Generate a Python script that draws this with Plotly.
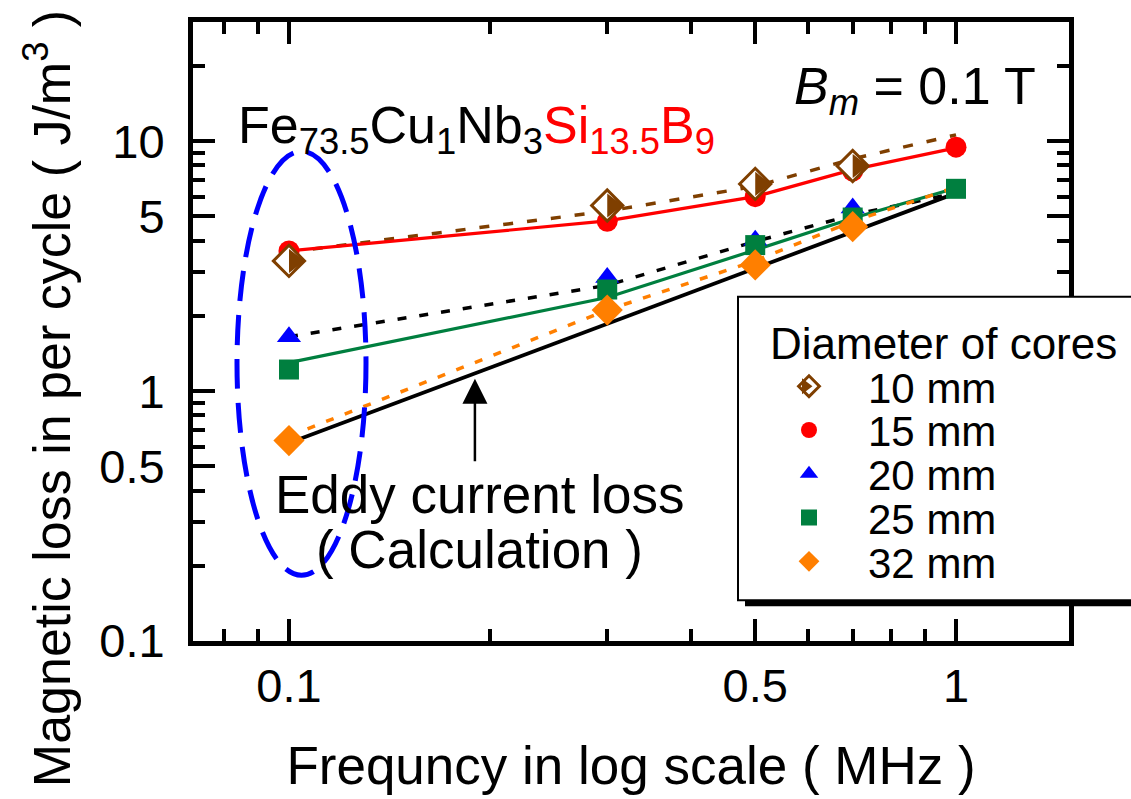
import math
import plotly.graph_objects as go

# ---------------- data ----------------
freq = [0.1, 0.3, 0.5, 0.7, 1.0]          # MHz
freq4 = [0.1, 0.3, 0.5, 0.7]

# measured points (J/m^3)
loss_10mm = [3.32, 5.53, 6.75, 7.96]
loss_15mm = [3.64, 4.78, 6.0, 7.6, 9.47]
loss_20mm = [1.65, 2.85, 4.02, 5.4]
loss_25mm = [1.22, 2.55, 3.84, 4.95, 6.45]
loss_32mm = [0.634, 2.11, 3.2, 4.55]

# fitted / calculated curves
fit_10mm = [3.6, 5.25, 6.6, 8.5, 10.6]
fit_15mm = [3.64, 4.8, 6.0, 7.7, 9.4]
fit_20mm = [1.65, 2.65, 3.97, 5.07, 6.2]
fit_25mm = [1.3, 2.37, 3.67, 4.92, 6.5]
fit_32mm = [0.66, 2.11, 3.32, 4.78, 6.55]
eddy_calc = [0.62, 1.86, 3.1, 4.34, 6.2]

x_tickvals = [0.1, 0.5, 1]
x_ticktext = ["0.1", "0.5", "1"]
x_minor = [0.08, 0.09, 0.2, 0.3, 0.4, 0.6, 0.7, 0.8, 0.9]
y_tickvals = [0.1, 0.5, 1, 5, 10]
y_ticktext = ["0.1", "0.5", "1", "5", "10"]
y_minor = [0.2, 0.3, 0.4, 0.6, 0.7, 0.8, 0.9, 2, 3, 4, 6, 7, 8, 9, 20]

legend_names = ["10 mm", "15 mm", "20 mm", "25 mm", "32 mm"]

# ---------------- style ----------------
FONT = "Liberation Sans, Arial, Helvetica, sans-serif"
BROWN = "#7f3f00"
RED = "#ff0000"
BLUE = "#0000ff"
GREEN = "#007f3f"
ORANGE = "#ff7f00"

W, H = 1131, 799
ML, MR, MT, MB = 193, 62, 22, 155
PW, PH = W - ML - MR, H - MT - MB


def px(xp):
    return (xp - ML) / PW


def py(yp):
    return (H - MB - yp) / PH


fig = go.Figure()


def add_line(y, color, dash, width):
    fig.add_trace(go.Scatter(x=freq, y=y, mode="lines",
                             line=dict(color=color, dash=dash, width=width),
                             showlegend=False, hoverinfo="skip"))


add_line(fit_10mm, BROWN, "10px,14px", 3.5)
add_line(fit_15mm, RED, "solid", 3.2)
add_line(fit_20mm, "black", "9px,13px", 3.5)
add_line(fit_25mm, GREEN, "solid", 3.2)
add_line(fit_32mm, ORANGE, "8px,12px", 3.5)
add_line(eddy_calc, "black", "solid", 3.8)

# markers
fig.add_trace(go.Scatter(x=freq, y=loss_15mm, mode="markers", name=legend_names[1],
                         legend="legend2", marker=dict(symbol="circle", size=21, color=RED)))
fig.add_trace(go.Scatter(x=freq4, y=loss_10mm, mode="markers", name=legend_names[0],
                         legend="legend",
                         marker=dict(symbol="diamond", size=24, color="white",
                                     line=dict(color=BROWN, width=3))))
fig.add_trace(go.Scatter(x=freq4, y=loss_10mm, mode="markers", showlegend=False,
                         marker=dict(symbol="triangle-down", angle=-90, standoff=5.2,
                                     size=20.8, color=BROWN)))
fig.add_trace(go.Scatter(x=freq4, y=loss_20mm, mode="markers", name=legend_names[2],
                         legend="legend3", marker=dict(symbol="triangle-up", size=21, color=BLUE)))
fig.add_trace(go.Scatter(x=freq, y=loss_25mm, mode="markers", name=legend_names[3],
                         legend="legend4", marker=dict(symbol="square", size=20, color=GREEN)))
fig.add_trace(go.Scatter(x=freq4, y=loss_32mm, mode="markers", name=legend_names[4],
                         legend="legend5", marker=dict(symbol="diamond", size=24, color=ORANGE)))
# legend-only half fill for the 10 mm key (no text of its own)
fig.add_trace(go.Scatter(x=[None], y=[None], mode="markers", name=" ",
                         legend="legend6",
                         marker=dict(symbol="triangle-down", angle=-90, standoff=3.5,
                                     size=13.9, color=BROWN)))


def leg(row_y):
    return dict(x=px(750), y=py(row_y - 35), xanchor="left", yanchor="top",
                bgcolor="rgba(0,0,0,0)", borderwidth=0, itemwidth=108,
                font=dict(family=FONT, size=42, color="black"),
                itemclick=False, itemdoubleclick=False)


rows = [389, 433, 477, 521, 565]

axis_common = dict(type="log", showgrid=False, zeroline=False, showline=True,
                   linecolor="black", linewidth=5, mirror="allticks",
                   ticks="inside", ticklen=22, tickwidth=4, tickcolor="black",
                   tickfont=dict(family=FONT, size=47, color="black"))

fig.update_layout(
    width=W, height=H,
    margin=dict(l=ML, r=MR, t=MT, b=MB, pad=0),
    paper_bgcolor="white", plot_bgcolor="white",
    font=dict(family=FONT, color="black"),
    xaxis=dict(axis_common,
               range=[math.log10(0.0718), math.log10(1.477)],
               tickmode="array", tickvals=x_tickvals, ticktext=x_ticktext,
               minor=dict(tickmode="array", tickvals=x_minor, ticks="inside",
                          ticklen=12, tickwidth=4, tickcolor="black", showgrid=False),
               ticklabelstandoff=0,
               title=dict(text="Frequncy in log scale ( MHz )",
                          font=dict(family=FONT, size=53), standoff=37)),
    yaxis=dict(axis_common,
               range=[-1, math.log10(30)],
               tickmode="array", tickvals=y_tickvals, ticktext=y_ticktext,
               minor=dict(tickmode="array", tickvals=y_minor, ticks="inside",
                          ticklen=12, tickwidth=4, tickcolor="black", showgrid=False),
               ticklabelstandoff=14),
    legend=leg(rows[0]), legend2=leg(rows[1]), legend3=leg(rows[2]),
    legend4=leg(rows[3]), legend5=leg(rows[4]),
    legend6=leg(rows[0]),
    showlegend=True,
)

# legend frame with drop shadow
fig.add_shape(type="rect", xref="paper", yref="paper", layer="above",
              x0=px(745), x1=px(1160), y0=py(609), y1=py(304),
              fillcolor="black", line=dict(width=0))
fig.add_shape(type="rect", xref="paper", yref="paper", layer="above",
              x0=px(738), x1=px(1150), y0=py(603), y1=py(298),
              fillcolor="white", line=dict(color="black", width=2))

# blue dashed ellipse around the 0.1 MHz points
fig.add_shape(type="circle", xref="paper", yref="paper", layer="above",
              x0=px(237), x1=px(366), y0=py(578), y1=py(152),
              line=dict(color=BLUE, width=5, dash="30px,14px"))

ann = [
    dict(text="Magnetic loss in per cycle ( J/m<sup>3</sup> )", x=px(48), y=py(401),
         xanchor="center", yanchor="middle", textangle=-90, size=52),
    dict(text="Diameter of cores", x=px(768), y=py(345), xanchor="left", yanchor="middle",
         size=44),
    dict(text="Fe<sub>73.5</sub>Cu<sub>1</sub>Nb<sub>3</sub>"
              "<span style='color:#ff0000'>Si<sub>13.5</sub>B<sub>9</sub></span>",
         x=px(236), y=py(130), xanchor="left", yanchor="middle", size=52),
    dict(text="<i>B</i><sub><i>m</i></sub> = 0.1 T", x=px(915), y=py(90),
         xanchor="center", yanchor="middle", size=52),
    dict(text="Eddy current loss", x=px(479), y=py(497), xanchor="center",
         yanchor="middle", size=53),
    dict(text="( Calculation )", x=px(479), y=py(552), xanchor="center",
         yanchor="middle", size=53),
]
for a in ann:
    size = a.pop("size")
    fig.add_annotation(xref="paper", yref="paper", showarrow=False,
                       font=dict(family=FONT, color="black", size=size), **a)

# arrow pointing at the calculated eddy current loss line
fig.add_annotation(xref="x", yref="y", x=math.log10(0.19), y=math.log10(1.12),
                   ax=0, ay=84, text="", showarrow=True, arrowhead=2,
                   arrowsize=2, arrowwidth=2.5, arrowcolor="black")

fig.write_html("out.html")
